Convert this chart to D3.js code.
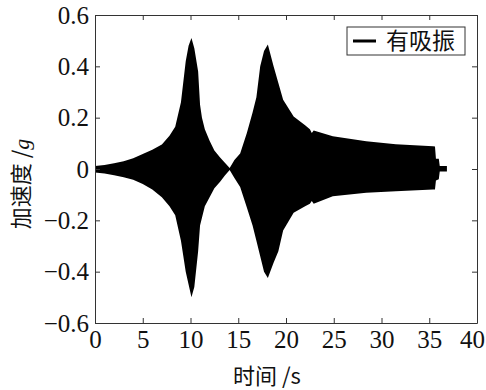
<!DOCTYPE html>
<html>
<head>
<meta charset="utf-8">
<script src="https://cdn.jsdelivr.net/npm/d3@7"></script>
<style>
  body { margin: 0; background: #fff; }
  svg { display: block; }
</style>
</head>
<body>
<div id="chart"></div>
<script>
// Envelope of the acceleration signal (time in s, accel in g)
var timeS  = [0, 1, 2, 3, 4, 5, 6, 7, 7.8, 8.4, 9.0, 9.5, 9.8, 10.1, 10.4, 10.8, 11.0, 11.2, 11.5, 12.0, 12.5, 13.1, 13.6, 14.1,
              14.6, 15.2, 15.9, 16.5, 16.9, 17.3, 17.7, 18.1, 18.7, 19.2, 19.7, 20.8, 22.0, 22.5, 22.7, 22.9, 24.9, 28.4,
              31.5, 35.4, 35.6, 35.7, 36.0, 36.1, 36.85];
var upperG = [0.012, 0.016, 0.022, 0.030, 0.042, 0.058, 0.075, 0.095, 0.130, 0.165, 0.26, 0.42, 0.48, 0.51, 0.47, 0.38, 0.25, 0.20, 0.155, 0.11, 0.072, 0.045, 0.024, 0.004,
              0.035, 0.06, 0.14, 0.22, 0.28, 0.40, 0.46, 0.485, 0.40, 0.335, 0.27, 0.205, 0.17, 0.155, 0.14, 0.15, 0.128, 0.108,
              0.096, 0.089, 0.088, 0.04, 0.04, 0.012, 0.012];
var lowerG = [-0.014, -0.018, -0.024, -0.032, -0.042, -0.058, -0.080, -0.110, -0.145, -0.180, -0.28, -0.40, -0.45, -0.50, -0.46, -0.32, -0.22, -0.19, -0.145, -0.11, -0.075, -0.05, -0.025, -0.004,
              -0.035, -0.07, -0.15, -0.22, -0.28, -0.34, -0.40, -0.425, -0.365, -0.32, -0.24, -0.17, -0.145, -0.135, -0.125, -0.135, -0.106, -0.093,
              -0.087, -0.080, -0.080, -0.045, -0.04, -0.01, -0.01];

var xTicks = [0, 5, 10, 15, 20, 25, 30, 35, 40];
var yTicks = [-0.6, -0.4, -0.2, 0, 0.2, 0.4, 0.6];
var legendLabel = "有吸振";
var xTitle = "时间 /s";

var W = 486, H = 390;
var mLeft = 95, mRight = 477, mTop = 15, mBottom = 323;

var svg = d3.select("#chart").append("svg")
  .attr("width", W)
  .attr("height", H);

var x = d3.scaleLinear().domain([0, 40]).range([mLeft, mRight]);
var y = d3.scaleLinear().domain([-0.6, 0.6]).range([mBottom, mTop]);

var yFmt = function(d) { return d === 0 ? "0" : d3.format(".1f")(d); };
var xFmt = d3.format("d");

// Signal (drawn as its envelope, the oscillation is too dense to resolve)
var pts = timeS.map(function(t, i) { return {t: t, hi: upperG[i], lo: lowerG[i]}; });
svg.append("path")
  .attr("fill", "#000")
  .attr("d", d3.area()
    .x(function(d) { return x(d.t); })
    .y0(function(d) { return y(d.lo); })
    .y1(function(d) { return y(d.hi); })
    (pts));

// Axes, ticks inward on all four sides
var xAxisG = svg.append("g")
  .attr("transform", "translate(0," + mBottom + ")")
  .call(d3.axisBottom(x).tickValues(xTicks).tickFormat(xFmt).tickSizeInner(-5).tickSizeOuter(0).tickPadding(7));
// last label sits against the page edge
xAxisG.selectAll(".tick text").filter(function(d) { return d === 40; }).attr("dx", -5);

var yAxisG = svg.append("g")
  .attr("transform", "translate(" + mLeft + ",0)")
  .call(d3.axisLeft(y).tickValues(yTicks).tickFormat(yFmt).tickSizeInner(-5).tickSizeOuter(0).tickPadding(6));
var topG = svg.append("g")
  .attr("transform", "translate(0," + mTop + ")")
  .call(d3.axisTop(x).tickValues(xTicks).tickFormat("").tickSizeInner(-5).tickSizeOuter(0));
var rightG = svg.append("g")
  .attr("transform", "translate(" + mRight + ",0)")
  .call(d3.axisRight(y).tickValues(yTicks).tickFormat("").tickSizeInner(-5).tickSizeOuter(0));

[xAxisG, yAxisG, topG, rightG].forEach(function(g) {
  g.selectAll("path, line").attr("stroke", "#333");
  g.selectAll("text")
    .style("font-family", "'Liberation Serif', 'Times New Roman', serif")
    .style("font-size", "25px")
    .attr("fill", "#111");
});

// Axis titles
svg.append("text")
  .attr("x", 267).attr("y", 384)
  .attr("text-anchor", "middle")
  .style("font-family", "'Noto Sans CJK SC', sans-serif")
  .style("font-size", "22px")
  .style("fill", "#111")
  .text(xTitle);

var yt = svg.append("text")
  .attr("transform", "translate(29,184) rotate(-90)")
  .attr("text-anchor", "middle")
  .style("font-family", "'Noto Sans CJK SC', sans-serif")
  .style("font-size", "22px")
  .style("fill", "#111");
yt.append("tspan").text("加速度 /");
yt.append("tspan").style("font-family", "'Liberation Serif', serif").style("font-style", "italic").text("g");

// Legend
var lg = svg.append("g");
lg.append("rect")
  .attr("x", 347).attr("y", 27).attr("width", 118).attr("height", 28)
  .attr("fill", "#fff").attr("stroke", "#333").attr("stroke-width", 1);
lg.append("line")
  .attr("x1", 353).attr("x2", 376).attr("y1", 41).attr("y2", 41)
  .attr("stroke", "#000").attr("stroke-width", 3);
lg.append("text")
  .attr("x", 386).attr("y", 49)
  .style("font-family", "'Noto Sans CJK SC', sans-serif")
  .style("font-size", "23px")
  .style("fill", "#111")
  .text(legendLabel);
</script>
</body>
</html>
